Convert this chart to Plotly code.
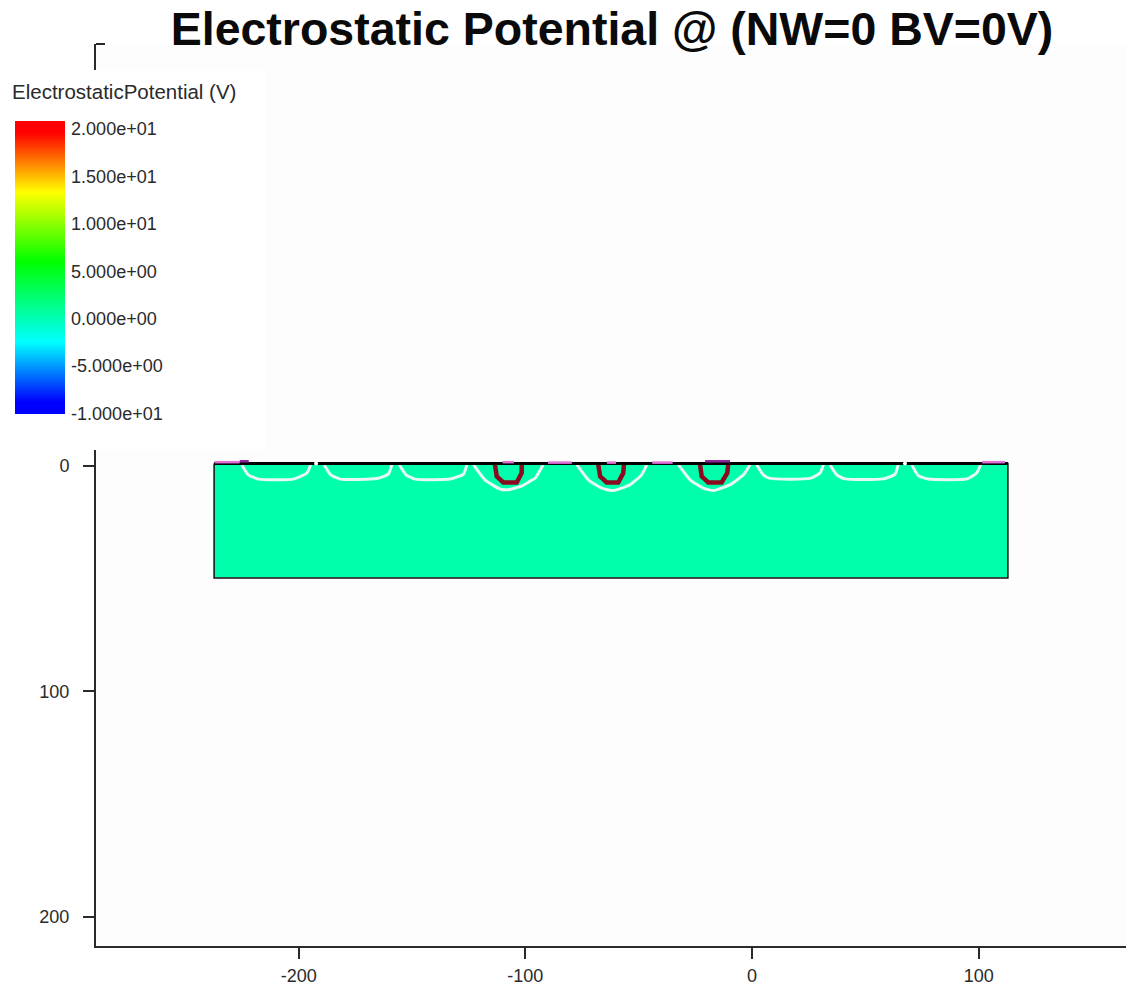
import plotly.graph_objects as go

BODY_X = [-237.3, 112.9]
BODY_Y = [-1.0, 49.7]
POTENTIAL = [[0.0]]
SCALE = [[0, "#0000ff"], [0.04, "#0000ff"], [0.245, "#00ffff"], [0.52, "#00ff00"],
         [0.757, "#ffff00"], [0.96, "#ff0000"], [1, "#ff0000"]]
# Where each label sits along the bar: the reference's labels are spaced slightly tighter than the bar itself.
TICK_POSITIONS = [19.18, 14.3, 9.45, 4.59, -0.27, -5.08, -10]
TICK_TEXT = ["2.000e+01", "1.500e+01", "1.000e+01", "5.000e+00", "0.000e+00", "-5.000e+00", "-1.000e+01"]

WHITE_CONTOURS = [
    ([-225.1, -222.2, -217.8, -202.3, -196.4, -194.7], [-0.5, 4, 5.9, 5.9, 3.2, -0.5]),
    ([-188.8, -185.8, -181.7, -165.5, -160.4, -158.9], [-0.5, 4, 5.9, 5.6, 3.7, -0.5]),
    ([-155.6, -152.6, -148.7, -133.2, -127.3, -125.8], [-0.5, 4, 5.9, 5.9, 3.7, -0.5]),
    ([-122.9, -117.8, -111.2, -107.5, -101.5, -97.9, -95.7, -92.1], [-0.5, 6.2, 10.3, 10.6, 8.9, 6.8, 5.5, -0.5]),
    ([-77.3, -72.2, -66.3, -61.2, -53.8, -48.7, -46.4], [-0.5, 6.2, 9.9, 11, 8.4, 4, -0.5]),
    ([-32.5, -27.3, -21.5, -17.1, -9.7, -3.8, -0.9], [-0.5, 6.2, 9.9, 11, 8.4, 4, -0.5]),
    ([2.1, 5, 7.9, 25.6, 30, 31.5], [-0.5, 4, 5.6, 5.6, 3.2, -0.5]),
    ([34.4, 37.4, 41, 57.9, 63.1, 64.5], [-0.5, 4, 5.8, 5.8, 3.7, -0.5]),
    ([70.4, 73.4, 77.8, 94.7, 99.1, 100.9], [-0.5, 4.4, 5.9, 5.8, 3.2, -0.5]),
]
RED_CONTOURS = [
    ([-113.4, -112.6, -109.7, -103.8, -101.6, -101.6], [-0.5, 4.7, 7.4, 7.4, 3.2, -0.5]),
    ([-67.8, -67, -64.1, -59, -56.8, -56.5], [-0.5, 4.7, 7.4, 7.4, 3.2, -0.5]),
    ([-22.9, -22.2, -19.3, -13.4, -10.9, -10.5], [-0.5, 4.7, 7.4, 7.4, 3.2, -0.5]),
]
PINK_SEGMENTS = [([-237, -226], -1.6), ([-90, -79.5], -1.4), ([-44, -35], -1.4),
                 ([-64, -60], -1.4), ([-110, -105], -1.6), ([101.5, 111.6], -1.6)]
PURPLE_SEGMENTS = [([-226, -222], -2.0), ([-20.7, -9.7], -2.0)]
GAPS_X = [-192.3, 67.5]
GAPS_Y = [-1.0, -1.0]

X_TICKS = [-200, -100, 0, 100]
X_LABELS = ["-200", "-100", "0", "100"]
Y_TICKS = [0, 100, 200]
TITLE = "Electrostatic Potential @ (NW=0 BV=0V)"
LEGEND_TITLE = "ElectrostaticPotential (V)"

SANS = "Liberation Sans"
INK = "#2a2a2a"

fig = go.Figure()
fig.add_trace(go.Heatmap(
    x=BODY_X, y=BODY_Y, z=POTENTIAL, zmin=-10, zmax=20, colorscale=SCALE, hoverinfo="skip",
    colorbar=dict(
        x=15 / 1126, xref="container", xanchor="left", y=1 - 132 / 984, yref="container", yanchor="top",
        len=293, lenmode="pixels", thickness=50, thicknessmode="pixels",
        outlinewidth=0, borderwidth=0, ticks="outside", ticklen=3, tickwidth=1, tickcolor="rgba(0,0,0,0)",
        bgcolor="rgba(0,0,0,0)",
        tickmode="array", tickvals=TICK_POSITIONS, ticktext=TICK_TEXT,
        tickfont=dict(family=SANS, size=18, color=INK),
        xpad=0, ypad=0,
    ),
))
fig.add_trace(go.Scatter(
    x=[BODY_X[0], BODY_X[1], BODY_X[1], BODY_X[0], BODY_X[0]],
    y=[BODY_Y[0], BODY_Y[0], BODY_Y[1], BODY_Y[1], BODY_Y[0]],
    mode="lines", line=dict(color="#111111", width=1.5), hoverinfo="skip", showlegend=False))
for xs, ys in WHITE_CONTOURS:
    fig.add_trace(go.Scatter(x=xs, y=ys, mode="lines", line=dict(color="#e8f8f4", width=3, shape="spline", smoothing=0.5),
                             hoverinfo="skip", showlegend=False))
for xs, ys in RED_CONTOURS:
    fig.add_trace(go.Scatter(x=xs, y=ys, mode="lines", line=dict(color="#8b0a1e", width=4.5),
                             hoverinfo="skip", showlegend=False))
fig.add_trace(go.Scatter(x=BODY_X, y=[BODY_Y[0], BODY_Y[0]], mode="lines", line=dict(color="#000000", width=3),
                         hoverinfo="skip", showlegend=False))
for xs, y in PINK_SEGMENTS:
    fig.add_trace(go.Scatter(x=xs, y=[y, y], mode="lines", line=dict(color="#e070d8", width=2.5),
                             hoverinfo="skip", showlegend=False))
for xs, y in PURPLE_SEGMENTS:
    fig.add_trace(go.Scatter(x=xs, y=[y, y], mode="lines", line=dict(color="#90209a", width=2.5),
                             hoverinfo="skip", showlegend=False))
fig.add_trace(go.Scatter(x=GAPS_X, y=GAPS_Y, mode="markers", marker=dict(color="white", size=4),
                         hoverinfo="skip", showlegend=False))

fig.update_layout(
    width=1126, height=984, margin=dict(l=96, r=0, t=44, b=38, pad=0, autoexpand=False),
    paper_bgcolor="#ffffff", plot_bgcolor="#fdfdfd", showlegend=False,
    font=dict(family=SANS, color=INK),
    title=dict(text=TITLE, x=612 / 1126, xanchor="center", y=1 - 29 / 984, yanchor="middle",
               automargin=False,
               font=dict(family=SANS, size=46.5, color="#0a0a0a", weight="bold")),
    xaxis=dict(range=[-289.4, 165], tickvals=X_TICKS, ticktext=X_LABELS, ticks="outside", ticklen=11, tickwidth=2,
               tickcolor=INK, showgrid=False, zeroline=False, showline=True, linecolor=INK, linewidth=2,
               ticklabelstandoff=1, tickfont=dict(size=18, color=INK)),
    yaxis=dict(range=[212.9, -187], tickvals=Y_TICKS, ticks="outside", ticklen=11, tickwidth=2,
               tickcolor=INK, showgrid=False, zeroline=False, showline=True, linecolor=INK, linewidth=2,
               ticklabelstandoff=10, tickfont=dict(size=18, color=INK)),
    shapes=[dict(type="rect", xref="paper", yref="paper", layer="above",
                 x0=-0.1, x1=170 / 1030, y0=(946 - 450) / 902, y1=(946 - 70) / 902,
                 fillcolor="#ffffff", line=dict(width=0)),
            dict(type="line", xref="paper", yref="paper", layer="above",
                 x0=0, x1=9 / 1030, y0=(946 - 44) / 902, y1=(946 - 44) / 902, line=dict(color=INK, width=2))],
    annotations=[dict(text=LEGEND_TITLE, xref="paper", yref="paper", x=-86 / 1030, y=(946 - 91) / 902,
                      xanchor="left", yanchor="middle", showarrow=False,
                      font=dict(family=SANS, size=20.5, color=INK))],
)
fig.write_html("out.html", config={"displayModeBar": False},
               post_script="document.body.style.margin='0';document.documentElement.style.overflow='hidden';")
